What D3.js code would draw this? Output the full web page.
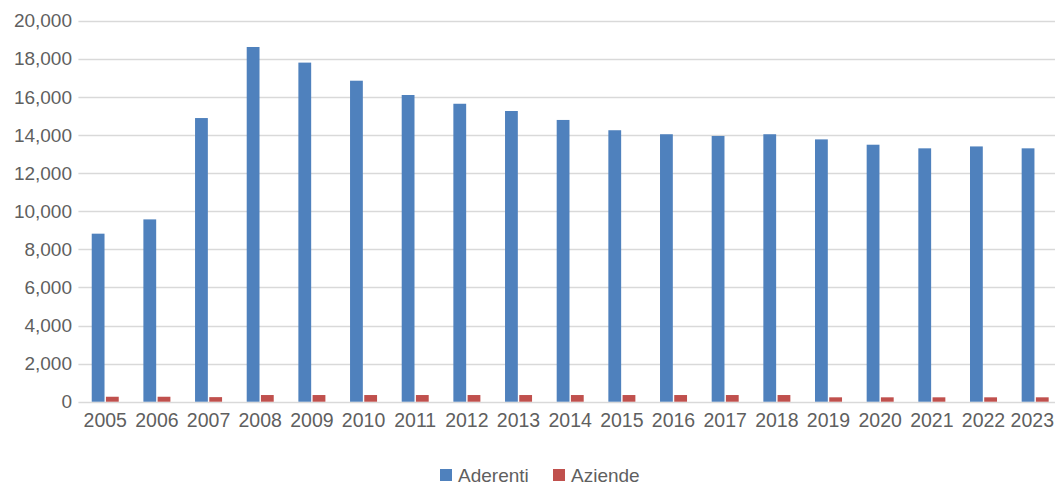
<!DOCTYPE html>
<html>
<head>
<meta charset="utf-8">
<script src="https://cdn.jsdelivr.net/npm/d3@7"></script>
<style>
  body { margin: 0; background: #fff; }
  text { font-family: "Liberation Sans", Arial, sans-serif; fill: #5f5f5f; }
</style>
</head>
<body>
<svg id="chart"></svg>
<script>
const years = ['2005', '2006', '2007', '2008', '2009', '2010', '2011', '2012', '2013', '2014',
  '2015', '2016', '2017', '2018', '2019', '2020', '2021', '2022', '2023'];
const aderenti = [8820, 9570, 14890, 18620, 17800, 16850, 16100, 15640, 15260, 14790,
  14250, 14040, 13950, 14040, 13770, 13490, 13300, 13400, 13300];
const aziende = [260, 260, 240, 350, 350, 350, 350, 350, 350, 350,
  350, 350, 350, 350, 230, 230, 230, 230, 230];
const seriesNames = ['Aderenti', 'Aziende'];
const seriesColors = ['#4f81bd', '#c0504d'];
const yTicks = [0, 2000, 4000, 6000, 8000, 10000, 12000, 14000, 16000, 18000, 20000];

const W = 1055, H = 487;
const svg = d3.select('#chart').attr('width', W).attr('height', H);

// plot area
const plotLeft = 79.4, plotRight = 1061, plotTop = 20.7, plotBottom = 401.7;

const x0 = d3.scaleBand().domain(years).range([plotLeft, plotRight])
  .paddingInner(0.477).paddingOuter(0.2385);
const x1 = d3.scaleBand().domain(seriesNames).range([0, x0.bandwidth()]).paddingInner(0.1);
const y = d3.scaleLinear().domain([0, 20000]).range([plotBottom, plotTop]);

// gridlines
svg.append('g')
  .selectAll('line')
  .data(yTicks)
  .join('line')
  .attr('x1', plotLeft - 1)
  .attr('x2', W)
  .attr('y1', d => Math.round(y(d)) + 0.5)
  .attr('y2', d => Math.round(y(d)) + 0.5)
  .attr('stroke', '#d9d9d9')
  .attr('stroke-width', 1.5);

// y labels
svg.append('g')
  .selectAll('text')
  .data(yTicks)
  .join('text')
  .attr('x', 72)
  .attr('y', d => y(d))
  .attr('dy', '0.35em')
  .attr('text-anchor', 'end')
  .style('font-size', '19px')
  .text(d => d3.format(',')(d));

// bars
const rows = years.map((yr, i) => ({ year: yr, vals: [aderenti[i], aziende[i]] }));
const groups = svg.append('g')
  .selectAll('g')
  .data(rows)
  .join('g')
  .attr('transform', d => `translate(${x0(d.year)},0)`);

groups.selectAll('rect')
  .data(d => d.vals.map((v, k) => ({ key: seriesNames[k], v: v, c: seriesColors[k] })))
  .join('rect')
  .attr('x', d => x1(d.key))
  .attr('width', x1.bandwidth())
  .attr('y', d => y(d.v))
  .attr('height', d => plotBottom - y(d.v))
  .attr('fill', d => d.c);

// x labels (last one pulled in so it stays on the page)
svg.append('g')
  .selectAll('text')
  .data(years)
  .join('text')
  .attr('x', d => x0(d) + x0.bandwidth() / 2)
  .attr('y', 427)
  .attr('text-anchor', 'middle')
  .style('font-size', '19.5px')
  .text(d => d)
  .each(function () {
    const cx = +this.getAttribute('x');
    const half = this.getComputedTextLength() / 2;
    if (cx + half > W - 1) this.setAttribute('x', W - 1 - half);
  });

// legend
const legend = svg.append('g');
const legendItems = [{ x: 440, name: seriesNames[0], c: seriesColors[0] },
  { x: 553, name: seriesNames[1], c: seriesColors[1] }];
legendItems.forEach(it => {
  legend.append('rect')
    .attr('x', it.x).attr('y', 469)
    .attr('width', 12).attr('height', 12)
    .attr('fill', it.c);
  legend.append('text')
    .attr('x', it.x + 18).attr('y', 482)
    .style('font-size', '19px')
    .text(it.name);
});
</script>
</body>
</html>
